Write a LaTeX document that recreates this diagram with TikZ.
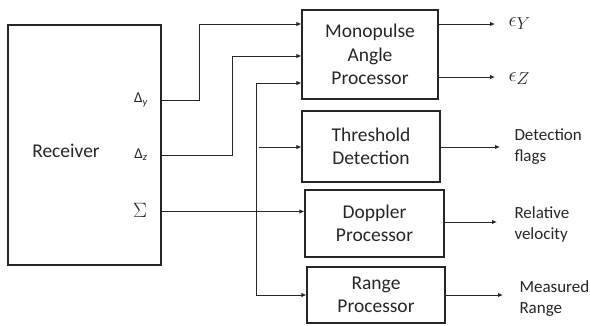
\documentclass[tikz,border=0pt]{standalone}
\usepackage[no-math]{fontspec}
\setmainfont{Carlito}
\usetikzlibrary{arrows.meta,calc}
\newcommand{\epslab}[1]{{\fontsize{21}{21}\selectfont$\epsilon$}\raisebox{-3pt}{\fontsize{16}{16}\selectfont$#1$}}
\begin{document}
\begin{tikzpicture}[x=1pt,y=-1pt,
  line width=1pt,
  box/.style={draw=black!85, line width=1.1pt, inner sep=0pt, align=center,
     font=\fontsize{19.5}{23.5}\selectfont, text=black!85},
  lab/.style={font=\fontsize{17}{21}\selectfont, align=left, anchor=west, inner sep=0pt, text=black!85},
  port/.style={font=\fontsize{15}{17}\selectfont, inner sep=0pt, text=black!85},
  wire/.style={draw=black!85},
  arr/.style={draw=black!85, -{Latex[length=5pt,width=4.5pt]}}]
\useasboundingbox (0,0) rectangle (590,325);
% boxes
\node[box, minimum width=153pt, minimum height=240pt] (rx) at (84.5,145) {};
\node[box, draw=none] (rxt) at (66,151) {Receiver};
\node[box, minimum width=136pt, minimum height=89pt] (mono) at (370,54.5) {Monopulse\\Angle\\Processor};
\node[box, minimum width=138pt, minimum height=71pt] (thr) at (371,146.5) {Threshold\\Detection};
\node[box, minimum width=139pt, minimum height=67pt] (dop) at (374.5,223.5) {Doppler\\Processor};
\node[box, minimum width=138pt, minimum height=56pt] (rng) at (376,295) {Range\\Processor};
% port labels
\node[port] (dy) at (141,100) {Δ\textsubscript{\itshape y}};
\node[port] (dz) at (141,155) {Δ\textsubscript{\itshape z}};
\node[port, font=\fontsize{20.74}{21}\selectfont] (sg) at (140,210) {$\Sigma$};
% helper coordinates
\coordinate (y1) at (0,24);
\coordinate (y2) at (0,56);
\coordinate (y3) at (0,83);
\coordinate (y4) at (0,147);
\coordinate (y5) at (0,211.5);
\coordinate (y6) at (0,295);
\coordinate (yo1) at (0,24);
\coordinate (yo2) at (0,77);
\coordinate (yo4) at (0,222);
\coordinate (bt) at (256,83);
\coordinate (bb) at (256,295);
% output labels
\node[lab] (ey) at (508,24) {\epslab{Y}};
\node[lab] (ez) at (508,79) {\epslab{Z}};
\node[lab] (df) at (514,147) {Detection\\flags};
\node[lab] (rv) at (514,224) {Relative\\velocity};
\node[lab] (mr) at (519,299) {Measured\\Range};
% inputs
\draw[arr] (dy -| rx.east) -- (199,100) -- (199,24) -- (mono.west |- y1);
\draw[arr] (dz -| rx.east) -- (232,155) -- (232,56) -- (mono.west |- y2);
\draw[arr] (y5 -| rx.east) -- (dop.west |- y5);
\draw[wire] (bt) -- (bb);
\draw[arr] (bt) -- (mono.west |- y3);
\draw[arr] (259,147) -- (thr.west |- y4);
\draw[arr] (bb) -- (rng.west |- y6);
% outputs
\draw[arr] (mono.east |- yo1) -- (495,24);
\draw[arr] (mono.east |- yo2) -- (495,77);
\draw[arr] (thr.east |- y4) -- (500,147);
\draw[arr] (dop.east |- yo4) -- (497,222);
\draw[arr] (rng.east) -- (503,295);
\end{tikzpicture}
\end{document}
